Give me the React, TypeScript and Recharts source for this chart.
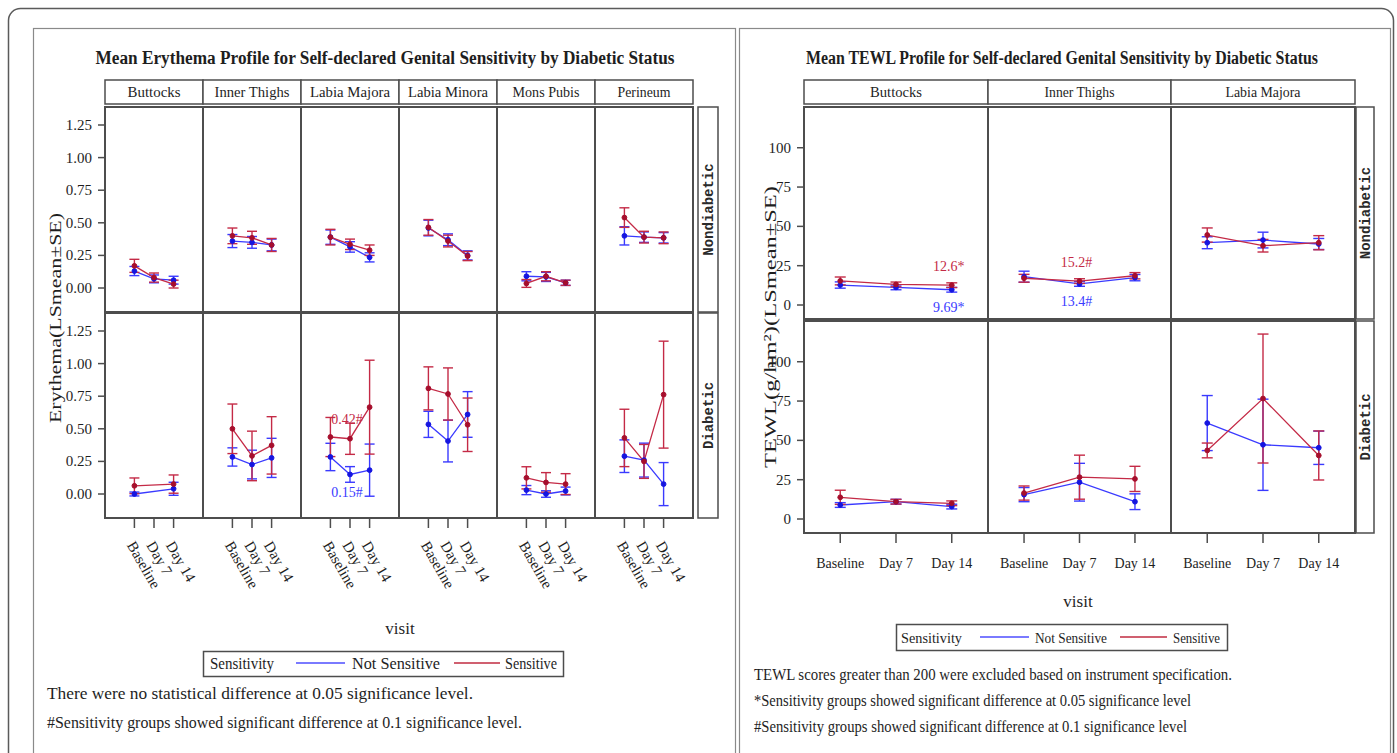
import React from 'react';
import { LineChart, Line, XAxis, YAxis, ErrorBar, ReferenceDot } from 'recharts';

// ---------- categories / labels ----------
const visits = ['Baseline', 'Day 7', 'Day 14'];
const erySites = ['Buttocks', 'Inner Thighs', 'Labia Majora', 'Labia Minora', 'Mons Pubis', 'Perineum'];
const tewlSites = ['Buttocks', 'Inner Thighs', 'Labia Majora'];
const rowLabels = ['Nondiabetic', 'Diabetic'];
const eryTicks = [0, 0.25, 0.5, 0.75, 1.0, 1.25];
const tewlTicks = [0, 25, 50, 75, 100];

// ---------- Erythema LS means (rows = sites, cols = Baseline, Day 7, Day 14) ----------
const eryNonNS = [
  [0.13, 0.07, 0.06],
  [0.36, 0.35, 0.33],
  [0.39, 0.315, 0.235],
  [0.46, 0.37, 0.25],
  [0.09, 0.085, 0.04],
  [0.4, 0.39, 0.385],
];
const eryNonNSse = [
  [0.035, 0.03, 0.03],
  [0.05, 0.045, 0.045],
  [0.055, 0.04, 0.035],
  [0.06, 0.045, 0.035],
  [0.035, 0.035, 0.02],
  [0.07, 0.04, 0.04],
];
const eryNonS = [
  [0.17, 0.08, 0.03],
  [0.4, 0.385, 0.33],
  [0.39, 0.335, 0.29],
  [0.465, 0.36, 0.245],
  [0.035, 0.09, 0.04],
  [0.54, 0.39, 0.385],
];
const eryNonSse = [
  [0.05, 0.035, 0.03],
  [0.06, 0.05, 0.05],
  [0.06, 0.04, 0.04],
  [0.06, 0.045, 0.035],
  [0.03, 0.035, 0.02],
  [0.075, 0.045, 0.045],
];
const eryDiaNS = [
  [0.0, null, 0.04],
  [0.284, 0.226, 0.277],
  [0.284, 0.15, 0.183],
  [0.534, 0.406, 0.61],
  [0.03, 0.0, 0.023],
  [0.29, 0.26, 0.076],
];
const eryDiaNSse = [
  [0.015, null, 0.05],
  [0.07, 0.11, 0.15],
  [0.105, 0.06, 0.2],
  [0.1, 0.16, 0.175],
  [0.035, 0.025, 0.03],
  [0.125, 0.13, 0.165],
];
const eryDiaS = [
  [0.063, null, 0.076],
  [0.5, 0.292, 0.373],
  [0.437, 0.424, 0.666],
  [0.81, 0.767, 0.531],
  [0.124, 0.089, 0.076],
  [0.43, 0.25, 0.762],
];
const eryDiaSse = [
  [0.06, null, 0.07],
  [0.19, 0.19, 0.22],
  [0.15, 0.12, 0.36],
  [0.165, 0.2, 0.205],
  [0.085, 0.075, 0.08],
  [0.22, 0.13, 0.41],
];

// ---------- TEWL LS means ----------
const tewlNonNS = [[12.7, 11.2, 9.69], [18.0, 13.4, 17.4], [39.6, 41.3, 38.8]];
const tewlNonNSse = [[2, 1.5, 1.5], [3.5, 1.5, 2], [3.8, 5, 3.5]];
const tewlNonS = [[15.3, 13.1, 12.6], [17.0, 15.2, 18.6], [44.5, 37.7, 39.6]];
const tewlNonSse = [[2.5, 1.5, 1.5], [2.5, 1.5, 2], [4.5, 4, 4.5]];
const tewlDiaNS = [[8.9, 11.0, 7.9], [15.5, 23.4, 11.0], [61.0, 47.2, 45.3]];
const tewlDiaNSse = [[1.5, 1.5, 1.5], [4.5, 12, 5], [17.5, 29, 10.6]];
const tewlDiaS = [[13.8, 11.0, 10.0], [16.5, 26.6, 25.5], [43.6, 76.6, 40.4]];
const tewlDiaSse = [[4.5, 1.5, 1.5], [4.5, 14, 8], [4.7, 41, 15.6]];

// ---------- annotations ----------
const eryNotes = [
  { row: 1, site: 2, visit: 1, series: 's', text: '0.42#' },
  { row: 1, site: 2, visit: 1, series: 'ns', text: '0.15#' },
];
const tewlNotes = [
  { row: 0, site: 0, visit: 2, series: 's', text: '12.6*' },
  { row: 0, site: 0, visit: 2, series: 'ns', text: '9.69*' },
  { row: 0, site: 1, visit: 1, series: 's', text: '15.2#' },
  { row: 0, site: 1, visit: 1, series: 'ns', text: '13.4#' },
];

// ---------- styles ----------
const FONT = 'Liberation Serif, Times New Roman, serif';
const MONO = 'Liberation Mono, Courier New, monospace';
const BLUE_LINE = '#3a3aff';
const BLUE_DOT = '#1515e0';
const RED_LINE = '#c42a46';
const RED_DOT = '#a60e2c';
const FRAME = '#4d4d4d';
const TXT = '#1e1e1e';

function buildData(ns: any[], nsSe: any[], s: any[], sSe: any[]) {
  return visits.map((_, k) => ({ x: k, ns: ns[k], nsSe: nsSe[k], s: s[k], sSe: sSe[k] }));
}

function NoteLabel(props: any) {
  const vb = props.viewBox || { x: props.x, y: props.y, width: 0, height: 0 };
  const cx = vb.x + (vb.width || 0) / 2;
  const cy = vb.y + (vb.height || 0) / 2;
  return (
    <text x={cx - 3} y={cy + props.dy} textAnchor="middle" dominantBaseline="central"
      fill={props.color} style={{ fontFamily: FONT }} fontSize={14}>{props.text}</text>
  );
}

function SlantTick(props: any) {
  const { x, y, payload } = props;
  return (
    <text transform={`translate(${x - 8},${y + 17}) rotate(60)`} textAnchor="start"
      style={{ fontFamily: FONT }} fontSize={15} fill={TXT}>{visits[payload.value]}</text>
  );
}

function FlatTick(props: any) {
  const { x, y, payload } = props;
  return (
    <text x={x} y={y + 20} textAnchor="middle" dominantBaseline="central"
      style={{ fontFamily: FONT }} fontSize={14} fill={TXT}>{visits[payload.value]}</text>
  );
}

function YTick(props: any) {
  const { x, y, payload, fmt } = props;
  return (
    <text x={x} y={y} textAnchor="end" dominantBaseline="central"
      style={{ fontFamily: FONT }} fontSize={15} fill={TXT}>{fmt(payload.value)}</text>
  );
}

function Facet(p: any) {
  const W = p.w + p.yW;
  const H = p.h + p.xH;
  return (
    <div style={{ position: 'absolute', left: p.x0 - p.yW, top: p.y0, width: W, height: H }}>
      <LineChart width={W} height={H} data={p.data} margin={{ top: 0, right: 0, bottom: 0, left: 0 }}>
        <XAxis type="number" dataKey="x" domain={p.xDomain} ticks={[0, 1, 2]} allowDataOverflow
          hide={p.xH === 0} height={p.xH || 1} axisLine={false}
          tickLine={{ stroke: FRAME, strokeWidth: 1.5 }} tickSize={10} tickMargin={0}
          tick={p.xTick} interval={0} />
        <YAxis type="number" domain={p.yDomain} ticks={p.yTicks} allowDataOverflow
          hide={p.yW === 0} width={p.yW || 1} axisLine={false}
          tickLine={{ stroke: FRAME, strokeWidth: 1.5 }} tickSize={7} tickMargin={6}
          tick={<YTick fmt={p.yFmt} />} interval={0} />
        <Line type="linear" dataKey="ns" stroke={BLUE_LINE} strokeWidth={1.3} connectNulls
          dot={{ r: 2.4, fill: BLUE_DOT, stroke: BLUE_DOT, strokeWidth: 1 }} isAnimationActive={false}>
          <ErrorBar dataKey="nsSe" width={p.cap} stroke={BLUE_LINE} strokeWidth={1.4} direction="y" />
        </Line>
        <Line type="linear" dataKey="s" stroke={RED_LINE} strokeWidth={1.3} connectNulls
          dot={{ r: 2.4, fill: RED_DOT, stroke: RED_DOT, strokeWidth: 1 }} isAnimationActive={false}>
          <ErrorBar dataKey="sSe" width={p.cap} stroke={RED_LINE} strokeWidth={1.4} direction="y" />
        </Line>
        {p.notes.map((n: any, i: number) => {
          const v = p.data[n.visit][n.series];
          const isRed = n.series === 's';
          return (
            <ReferenceDot key={i} x={n.visit} y={v} r={1} fill="none" stroke="none" ifOverflow="visible"
              label={<NoteLabel text={n.text} color={isRed ? RED_LINE : BLUE_LINE} dy={isRed ? -19 : 18} />} />
          );
        })}
      </LineChart>
    </div>
  );
}

function FitText(p: any) {
  return (
    <text x={p.x} y={p.y} textAnchor={p.anchor || 'start'} style={{ fontFamily: p.family || FONT }}
      fontSize={p.size} fontWeight={p.weight || 'normal'} fill={p.fill || TXT}
      textLength={p.len} lengthAdjust={p.len ? 'spacingAndGlyphs' : undefined} transform={p.transform}>{p.children}</text>
  );
}

export default function App() {
  // Erythema layout
  const eX = 105, eW = 98, eTop = [107, 313], eH = 205;
  // TEWL layout
  const tX = 804, tStep = 183.67, tTop = [107, 321], tH = 212;

  const eryFacets: any[] = [];
  rowLabels.forEach((_, r) => {
    erySites.forEach((__, j) => {
      const data = r === 0
        ? buildData(eryNonNS[j], eryNonNSse[j], eryNonS[j], eryNonSse[j])
        : buildData(eryDiaNS[j], eryDiaNSse[j], eryDiaS[j], eryDiaSse[j]);
      eryFacets.push(
        <Facet key={`e${r}${j}`} x0={eX + eW * j} y0={eTop[r]} w={eW} h={eH}
          yW={j === 0 ? 45 : 0} xH={r === 1 ? 90 : 0} data={data}
          yDomain={[-0.184, 1.388]} yTicks={eryTicks} yFmt={(v: number) => v.toFixed(2)}
          xDomain={[-1.5, 3.5]} xTick={<SlantTick />} cap={5}
          notes={eryNotes.filter((n) => n.row === r && n.site === j)} />
      );
    });
  });

  const tewlFacets: any[] = [];
  rowLabels.forEach((_, r) => {
    tewlSites.forEach((__, j) => {
      const x0 = Math.round(tX + tStep * j);
      const w = Math.round(tX + tStep * (j + 1)) - x0;
      const data = r === 0
        ? buildData(tewlNonNS[j], tewlNonNSse[j], tewlNonS[j], tewlNonSse[j])
        : buildData(tewlDiaNS[j], tewlDiaNSse[j], tewlDiaS[j], tewlDiaSse[j]);
      tewlFacets.push(
        <Facet key={`t${r}${j}`} x0={x0} y0={tTop[r]} w={w} h={tH}
          yW={j === 0 ? 44 : 0} xH={r === 1 ? 40 : 0} data={data}
          yDomain={[-8.9, 125.9]} yTicks={tewlTicks} yFmt={(v: number) => String(v)}
          xDomain={[-0.65, 2.65]} xTick={<FlatTick />} cap={5.5}
          notes={tewlNotes.filter((n) => n.row === r && n.site === j)} />
      );
    });
  });

  const eryHeaderLens = [53, 75, 80, 80, 67, 53];
  const tewlHeaderLens = [52, 70, 75];

  return (
    <div style={{ position: 'absolute', left: 0, top: 0, width: 1397, height: 753, background: '#fff', overflow: 'hidden' }}>
      <svg width={1397} height={753} style={{ position: 'absolute', left: 0, top: 0 }}>
        {/* outer frames */}
        <rect x={8.5} y={8.5} width={1385} height={770} rx={12} fill="none" stroke="#5a5a5a" strokeWidth={1.5} />
        <rect x={33.5} y={28.5} width={702} height={760} fill="none" stroke="#8a8a8a" strokeWidth={1.2} />
        <rect x={739.5} y={28.5} width={651} height={760} fill="none" stroke="#8a8a8a" strokeWidth={1.2} />

        {/* ---------- Erythema chrome ---------- */}
        <FitText x={385} y={64} size={18} weight="bold" anchor="middle" len={579}>
          Mean Erythema Profile for Self-declared Genital Sensitivity by Diabetic Status
        </FitText>
        {erySites.map((s, j) => (
          <g key={s}>
            <rect x={eX + eW * j} y={80} width={eW} height={24} fill="#fff" stroke={FRAME} strokeWidth={1.5} />
            <FitText x={eX + eW * j + eW / 2} y={97} size={15} anchor="middle" len={eryHeaderLens[j]}>{s}</FitText>
          </g>
        ))}
        {rowLabels.map((lab, r) => (
          <g key={lab}>
            {erySites.map((s, j) => (
              <rect key={s} x={eX + eW * j} y={eTop[r]} width={eW} height={eH} fill="none" stroke={FRAME} strokeWidth={2} />
            ))}
            <rect x={698} y={eTop[r]} width={20} height={eH} fill="#fff" stroke={FRAME} strokeWidth={1.5} />
            <text transform={`translate(713,${eTop[r] + eH / 2}) rotate(-90)`} textAnchor="middle"
              style={{ fontFamily: MONO }} fontSize={14} fontWeight="bold" fill="#2a2a2a">{lab}</text>
          </g>
        ))}
        <FitText transform="translate(61,318) rotate(-90)" x={0} y={0} size={17} anchor="middle" len={210}>
          Erythema(LSmean±SE)
        </FitText>
        <FitText x={400} y={634} size={17} anchor="middle">visit</FitText>
        <rect x={203.5} y={651.5} width={360} height={25} fill="#fff" stroke={FRAME} strokeWidth={1.5} />
        <FitText x={210} y={669} size={16} len={64}>Sensitivity</FitText>
        <line x1={296} y1={663} x2={345} y2={663} stroke="#7a7aff" strokeWidth={2} />
        <FitText x={352} y={669} size={16} len={88}>Not Sensitive</FitText>
        <line x1={454} y1={663} x2={500} y2={663} stroke="#d06070" strokeWidth={2} />
        <FitText x={505} y={669} size={16} len={52}>Sensitive</FitText>
        <FitText x={47} y={699} size={17} len={426}>There were no statistical difference at 0.05 significance level.</FitText>
        <FitText x={47} y={728} size={17} len={475}>#Sensitivity groups showed significant difference at 0.1 significance level.</FitText>

        {/* ---------- TEWL chrome ---------- */}
        <FitText x={1062} y={64} size={18} weight="bold" anchor="middle" len={512}>
          Mean TEWL Profile for Self-declared Genital Sensitivity by Diabetic Status
        </FitText>
        {tewlSites.map((s, j) => {
          const x0 = Math.round(tX + tStep * j);
          const w = Math.round(tX + tStep * (j + 1)) - x0;
          return (
            <g key={s}>
              <rect x={x0} y={80} width={w} height={24} fill="#fff" stroke={FRAME} strokeWidth={1.5} />
              <FitText x={x0 + w / 2} y={97} size={15} anchor="middle" len={tewlHeaderLens[j]}>{s}</FitText>
            </g>
          );
        })}
        {rowLabels.map((lab, r) => (
          <g key={lab}>
            {tewlSites.map((s, j) => {
              const x0 = Math.round(tX + tStep * j);
              const w = Math.round(tX + tStep * (j + 1)) - x0;
              return <rect key={s} x={x0} y={tTop[r]} width={w} height={tH} fill="none" stroke={FRAME} strokeWidth={2} />;
            })}
            <rect x={1356} y={tTop[r]} width={18} height={tH} fill="#fff" stroke={FRAME} strokeWidth={1.5} />
            <text transform={`translate(1370,${tTop[r] + tH / 2}) rotate(-90)`} textAnchor="middle"
              style={{ fontFamily: MONO }} fontSize={14} fontWeight="bold" fill="#2a2a2a">{lab}</text>
          </g>
        ))}
        <FitText transform="translate(776,327) rotate(-90)" x={0} y={0} size={17} anchor="middle" len={282}>
          TEWL(g/hm²)(LSmean±SE)
        </FitText>
        <FitText x={1078} y={607} size={17} anchor="middle">visit</FitText>
        <rect x={896.5} y={624.5} width={331} height={26} fill="#fff" stroke={FRAME} strokeWidth={1.5} />
        <FitText x={901} y={643} size={15} len={61}>Sensitivity</FitText>
        <line x1={980} y1={637} x2={1029} y2={637} stroke="#7a7aff" strokeWidth={2} />
        <FitText x={1035} y={643} size={15} len={72}>Not Sensitive</FitText>
        <line x1={1120} y1={637} x2={1167} y2={637} stroke="#d06070" strokeWidth={2} />
        <FitText x={1173} y={643} size={15} len={47}>Sensitive</FitText>
        <FitText x={754} y={680} size={17} len={478}>TEWL scores greater than 200 were excluded based on instrument specification.</FitText>
        <FitText x={754} y={706} size={17} len={437}>*Sensitivity groups showed significant difference at 0.05 significance level</FitText>
        <FitText x={754} y={732} size={17} len={433}>#Sensitivity groups showed significant difference at 0.1 significance level</FitText>
      </svg>
      {eryFacets}
      {tewlFacets}
    </div>
  );
}
